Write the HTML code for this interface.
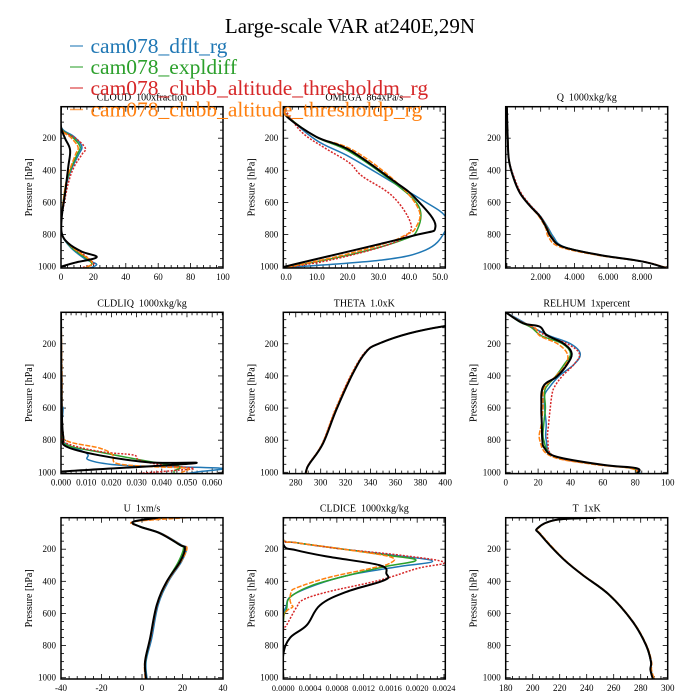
<!DOCTYPE html>
<html><head><meta charset="utf-8">
<style>
html,body{margin:0;padding:0;background:#fff;}
svg{display:block;font-family:"Liberation Serif",serif;}
text{white-space:pre;}
</style></head>
<body>
<svg id="chart" width="700" height="700" viewBox="0 0 700 700">
<text x="350" y="33" font-size="21" text-anchor="middle">Large-scale VAR at240E,29N</text>
</svg>
<script>
// ---------- DATA ----------
const CLOUD_P_BLUE=[4,130,190,250,300,380,480,626,700,800,870,916,958,985,1008];
const CLOUD_BLUE=[0,0,8,12.8,11,7,3.5,1,0,0.5,5,10,16,22,18];
const CLOUD_P_GREEN=[4,135,192,252,300,380,480,626,700,800,870,916,958,985,1008];
const CLOUD_GREEN=[0,0,7,11.8,10,6.5,3.2,1,0,0.5,5.5,11,17,19,15];
const CLOUD_P_RED=[4,140,200,262,300,380,480,626,700,800,875,916,958,985,1008];
const CLOUD_RED=[0,0,9,15,13,8,4.5,1.5,0,0.5,6.6,12.8,18,20,12];
const CLOUD_P_ORANGE=[4,140,195,255,300,380,480,626,700,800,870,916,958,985,1008];
const CLOUD_ORANGE=[0,0,6,10.5,9,6,3,1,0,0.5,6,12,18,19,14];
const CLOUD_P_BLACK=[4,128,201,273,377,543,688,792,854,906,941,975,1000,1008];
const CLOUD_BLACK=[0,0,2.5,5.6,4.5,2.5,0.5,0.5,4.5,12.8,22,8.6,0,0];

const OMEGA_P_BLUE=[4,60,211,315,460,585,689,793,896,958,1005];
const OMEGA_BLUE=[-0.8,0.5,9.7,20.5,33.3,44.2,51.8,51.2,45.3,31.2,0];
const OMEGA_P_GREEN=[4,60,190,283,470,625,770,832,920,1005];
const OMEGA_GREEN=[-0.6,0.3,9.5,20.5,34.5,43.1,42.6,38,22,0];
const OMEGA_P_RED=[4,55,168,260,353,436,560,726,809,875,960,1005];
const OMEGA_RED=[-0.8,0.8,5.4,12.5,20.5,24.7,34.5,40.4,38.8,31.2,14,0];
const OMEGA_P_ORANGE=[4,60,190,273,470,645,760,800,850,930,1005];
const OMEGA_ORANGE=[-0.7,0.3,9.5,21.6,35.6,43.1,42,39,33,18,0];
const OMEGA_P_BLACK=[4,64,190,273,460,574,750,813,1000,1008];
const OMEGA_BLACK=[-0.5,0.2,9.7,20.5,34.5,42,48.5,40,-0.5,-0.5];

const Q_P=[4,100,200,336,450,543,620,688,760,813,875,927,968,1008];
const Q_BLUE=[0,0.02,0.05,0.12,0.42,0.8,1.4,2.0,2.45,2.75,3.35,5.4,8.0,9.4];
const Q_GREEN=[0,0.02,0.05,0.12,0.4,0.8,1.38,1.98,2.4,2.65,3.3,5.5,8.05,9.4];
const Q_RED=[0,0.02,0.05,0.13,0.45,0.85,1.42,2.0,2.4,2.65,3.3,5.5,8.1,9.45];
const Q_ORANGE=[0,0.02,0.05,0.12,0.4,0.78,1.35,1.9,2.3,2.45,3.1,5.3,8.0,9.5];
const Q_BLACK=[0,0.02,0.05,0.12,0.4,0.78,1.35,1.96,2.35,2.6,3.3,5.5,8.05,9.4];

const LIQ_P_BLUE=[4,550,600,700,809,882,923,954,964,975,996,1008];
const LIQ_BLUE=[0,0,0.0008,0.0004,0.0009,0.0102,0.011,0.022,0.040,0.064,0.055,0.05];
const LIQ_P_GREEN=[4,600,760,830,882,933,964,990,1008];
const LIQ_GREEN=[0,0,0.0005,0.0022,0.018,0.035,0.047,0.045,0.045];
const LIQ_P_RED=[4,600,760,819,871,892,923,954,975,986,1008];
const LIQ_RED=[0,0,0.0005,0.0022,0.0155,0.0286,0.031,0.040,0.0525,0.047,0.03];
const LIQ_P_ORANGE=[4,400,600,760,809,850,892,944,964,975,1000,1008];
const LIQ_ORANGE=[0,0.0004,0.0004,0.0008,0.003,0.0155,0.0205,0.022,0.035,0.05,0.048,0.048];
const LIQ_P_BLACK=[4,600,778,840,895,938,944,996,1008];
const LIQ_BLACK=[0,0.0003,0.0009,0.0022,0.0155,0.035,0.0525,0,0];

const THETA_P=[60,89,135,197,249,384,612,820,944,975,1003,1008];
const THETA_BLUE=[430,400,371,347.5,336.6,325.5,312,301.5,291,289,288.2,288.2];
const THETA_GREEN=[430,400,371,347.4,336.5,325.6,312.2,301.7,291.1,289,288.1,288.1];
const THETA_RED=[430,400,371,347,336,325,311.6,301.3,290.8,288.8,288,288];
const THETA_ORANGE=[430,400,371,347.3,336.4,325.3,311.8,301.4,291,289,288.5,288.5];
const THETA_BLACK=[430,400,371,347.3,336.6,325.9,312.5,301.9,291.2,289,288,288];

const RH_P=[4,60,100,150,200,262,330,400,470,520,600,700,800,900,950,975,1008];
const RH_BLUE=[0,10,17,27,40,46,42,33,27,24,24,25,25,30,57,79,83];
const RH_GREEN=[0,8,16,22,35,40,36,31,25,24,24.5,23.5,23.5,30,56,78,81];
const RH_RED=[0,9,17,25,38,45.5,42,35,30,28.5,27.5,26.5,26,30,55,78,82];
const RH_ORANGE=[0,9,18,21,32,38,37,31,24,23,23,22,21,28,54,77,82];
const RH_P_BLACK=[4,72,93,145,197,259,333,405,467,592,700,799,850,903,954,975,1008];
const RH_BLACK=[0,10.7,21,25.2,35.5,40.7,37.6,31.4,23.1,22,22.3,22.6,24,31.4,60.3,81,81];

const U_P=[4,29,60,101,174,194,278,402,547,754,900,1008];
const U_BLUE=[12,-4,-0.5,9.5,19.5,22,19.5,13,8,4.8,2,2.5];
const U_GREEN=[12,-4,-0.8,9,18.5,20.5,18,12.3,7.5,4.2,1.7,2];
const U_RED=[14,-4.5,-1,9,19,21.5,19,12.5,7.6,4.3,1.6,2];
const U_ORANGE=[22,-4,-0.8,9.3,19.3,22.2,19.2,12.6,7.4,4.1,1.4,1.6];
const U_BLACK=[8,-4.3,-1,8.9,18.8,21.2,18.8,12.2,7.3,4,1.5,2];

const ICE_P_BLUE=[4,140,160,200,240,275,310,360,420,491,560,640,1008];
const ICE_BLUE=[0,0,0.0002,0.0009,0.0017,0.00223,0.0017,0.001,0.0005,0.00012,0.00004,0,0];
const ICE_P_GREEN=[4,140,160,200,240,270,310,370,430,500,570,660,1008];
const ICE_GREEN=[0,0,0.0002,0.0009,0.0016,0.00198,0.0015,0.0009,0.0004,0.0001,0.00005,0,0];
const ICE_P_RED=[4,140,160,200,240,282,320,393,466,514,560,673,720,1008];
const ICE_RED=[0,0,0.0002,0.0009,0.0018,0.0024,0.002,0.00144,0.00066,0.0003,0.0002,0.00005,0,0];
const ICE_P_ORANGE=[4,140,160,200,248,290,320,378,440,466,514,545,560,585,640,1008];
const ICE_ORANGE=[0,0,0.0002,0.0009,0.0016,0.00158,0.0013,0.00066,0.0002,0.00012,0.0001,0.00012,0.00014,0.00005,0,0];
const ICE_P_BLACK=[4,170,207,248,300,352,393,466,548,673,752,855,1008];
const ICE_BLACK=[0,0,0.0002,0.00069,0.00144,0.00154,0.00151,0.00094,0.00055,0.00035,0.0001,0,0];

const T_P=[4,18,70,111,256,360,484,650,795,899,950,1008];
const T_BLUE=[248,217,203.8,206,222.2,237,256.5,273.8,283.6,287.4,287.6,289.5];
const T_GREEN=[248,217,203.6,206,222,236.8,256.4,273.8,283.7,287.5,287.4,289.3];
const T_RED=[248,217,203.6,206,222,236.7,256.4,273.7,283.6,287.4,287.3,289.2];
const T_ORANGE=[248,217.5,204,206.5,222.5,237.3,257,274.3,284.2,288,288,290];
const T_BLACK=[247,217,203.5,205.9,222,236.9,256.7,274,283.9,287.6,287.2,289];

const LEGEND_NAMES=["cam078_dflt_rg","cam078_expldiff","cam078_clubb_altitude_thresholdm_rg","cam078_clubb_altitude_thresholdp_rg"];

// ---------- LAYOUT ----------
const svg=document.getElementById('chart');
const NS='http://www.w3.org/2000/svg';
const COLS=[61,283.3,505.7], ROWS=[106.7,312.3,517.7], W=162, H=161.3;
const PMIN=4, PMAX=1008;
const COLORS=['#1f77b4','#2ca02c','#d62728','#ff7f0e','#000000'];
const DASH=['', '', '2,1.5', '5,1.5', ''];
const WIDTHS=[1.5,1.5,1.5,1.5,2];
const SNAMES=['blue','green','red','orange','black'];

function mk(tag,attrs,parent){const e=document.createElementNS(NS,tag);for(const k in attrs)e.setAttribute(k,attrs[k]);(parent||svg).appendChild(e);return e;}

function smoothPath(pts){
  if(pts.length<3) return pts.map((q,k)=>(k?'L':'M')+q[0].toFixed(2)+','+q[1].toFixed(2)).join(' ');
  let d='M'+pts[0][0].toFixed(2)+','+pts[0][1].toFixed(2);
  const t=0.18;
  for(let k=0;k<pts.length-1;k++){
    const p0=pts[Math.max(0,k-1)],p1=pts[k],p2=pts[k+1],p3=pts[Math.min(pts.length-1,k+2)];
    const c1=[p1[0]+(p2[0]-p0[0])*t,p1[1]+(p2[1]-p0[1])*t];
    const c2=[p2[0]-(p3[0]-p1[0])*t,p2[1]-(p3[1]-p1[1])*t];
    d+=' C'+c1[0].toFixed(2)+','+c1[1].toFixed(2)+' '+c2[0].toFixed(2)+','+c2[1].toFixed(2)+' '+p2[0].toFixed(2)+','+p2[1].toFixed(2);
  }
  return d;
}

const PANELS=[
 {name:'cloud',title:'CLOUD  100xfraction',dom:[0,100],major:20,minor:4,fmt:v=>v.toFixed(0),tickStart:0,
  series:[[CLOUD_P_BLUE,CLOUD_BLUE],[CLOUD_P_GREEN,CLOUD_GREEN],[CLOUD_P_RED,CLOUD_RED],[CLOUD_P_ORANGE,CLOUD_ORANGE],[CLOUD_P_BLACK,CLOUD_BLACK]]},
 {name:'omega',title:'OMEGA  864xPa/s',dom:[-0.9,51.7],major:10,minor:2,fmt:v=>v.toFixed(1),tickStart:0,
  series:[[OMEGA_P_BLUE,OMEGA_BLUE],[OMEGA_P_GREEN,OMEGA_GREEN],[OMEGA_P_RED,OMEGA_RED],[OMEGA_P_ORANGE,OMEGA_ORANGE],[OMEGA_P_BLACK,OMEGA_BLACK]]},
 {name:'q',title:'Q  1000xkg/kg',dom:[-0.07,9.52],major:2,minor:0.5,fmt:v=>v.toFixed(3),tickStart:2,
  series:[[Q_P,Q_BLUE],[Q_P,Q_GREEN],[Q_P,Q_RED],[Q_P,Q_ORANGE],[Q_P,Q_BLACK]]},
 {name:'cldliq',title:'CLDLIQ  1000xkg/kg',dom:[0,0.0643],major:0.01,minor:0.002,fmt:v=>v.toFixed(3),tickStart:0,
  series:[[LIQ_P_BLUE,LIQ_BLUE],[LIQ_P_GREEN,LIQ_GREEN],[LIQ_P_RED,LIQ_RED],[LIQ_P_ORANGE,LIQ_ORANGE],[LIQ_P_BLACK,LIQ_BLACK]]},
 {name:'theta',title:'THETA  1.0xK',dom:[270,400],major:20,minor:5,fmt:v=>v.toFixed(0),tickStart:280,
  series:[[THETA_P,THETA_BLUE],[THETA_P,THETA_GREEN],[THETA_P,THETA_RED],[THETA_P,THETA_ORANGE],[THETA_P,THETA_BLACK]]},
 {name:'relhum',title:'RELHUM  1xpercent',dom:[0,100],major:20,minor:4,fmt:v=>v.toFixed(0),tickStart:0,
  series:[[RH_P,RH_BLUE],[RH_P,RH_GREEN],[RH_P,RH_RED],[RH_P,RH_ORANGE],[RH_P_BLACK,RH_BLACK]]},
 {name:'u',title:'U  1xm/s',dom:[-40,40],major:20,minor:4,fmt:v=>v.toFixed(0),tickStart:-40,
  series:[[U_P,U_BLUE],[U_P,U_GREEN],[U_P,U_RED],[U_P,U_ORANGE],[U_P,U_BLACK]]},
 {name:'cldice',title:'CLDICE  1000xkg/kg',dom:[0,0.00242],major:0.0004,minor:0.0001,fmt:v=>v.toFixed(4),tickStart:0,small:true,
  series:[[ICE_P_BLUE,ICE_BLUE],[ICE_P_GREEN,ICE_GREEN],[ICE_P_RED,ICE_RED],[ICE_P_ORANGE,ICE_ORANGE],[ICE_P_BLACK,ICE_BLACK]]},
 {name:'t',title:'T  1xK',dom:[180,300],major:20,minor:5,fmt:v=>v.toFixed(0),tickStart:180,
  series:[[T_P,T_BLUE],[T_P,T_GREEN],[T_P,T_RED],[T_P,T_ORANGE],[T_P,T_BLACK]]}
];

PANELS.forEach((pn,i)=>{
  const x0=COLS[i%3], y0=ROWS[Math.floor(i/3)];
  const xs=v=>x0+(v-pn.dom[0])/(pn.dom[1]-pn.dom[0])*W;
  const ys=p=>y0+(p-PMIN)/(PMAX-PMIN)*H;
  const g=mk('g',{});
  
  
  const cp=mk('clipPath',{id:'clip'+i},g);
  mk('rect',{x:x0,y:y0,width:W,height:H},cp);
  const t=mk('text',{x:x0+W/2,y:y0-6,'font-size':10,'text-anchor':'middle'},g);
  t.textContent=pn.title;
  
  
  const yl=mk('text',{x:x0-29,y:y0+H/2,'font-size':10,'text-anchor':'middle',transform:`rotate(-90 ${x0-29} ${y0+H/2})`},g);
  yl.textContent='Pressure [hPa]';
  
  
  for(let p=50;p<=1000;p+=50){
    const y=ys(p), maj=p%200===0, L=maj?5:3;
    mk('line',{x1:x0,x2:x0+L,y1:y,y2:y,stroke:'#000','stroke-width':0.8},g);
    mk('line',{x1:x0+W,x2:x0+W-L,y1:y,y2:y,stroke:'#000','stroke-width':0.8},g);
    if(maj){const tl=mk('text',{x:x0-5,y:y+3,'font-size':9,'text-anchor':'end'},g);tl.textContent=p;
      
      }
  }
  const nmin=Math.ceil((pn.dom[0]-1e-12)/pn.minor), nmax=Math.floor((pn.dom[1]+1e-12)/pn.minor);
  const ratio=Math.round(pn.major/pn.minor);
  for(let k=nmin;k<=nmax;k++){
    const v=k*pn.minor, x=xs(v), maj=(((k%ratio)+ratio)%ratio)===0, L=maj?5:3;
    mk('line',{x1:x,x2:x,y1:y0+H,y2:y0+H-L,stroke:'#000','stroke-width':0.8},g);
    mk('line',{x1:x,x2:x,y1:y0,y2:y0+L,stroke:'#000','stroke-width':0.8},g);
    if(maj && v>=pn.tickStart-1e-12){
      const tl=mk('text',{x:x,y:y0+H+12,'font-size':pn.small?8.3:9,'text-anchor':'middle'},g);
      tl.textContent=pn.fmt(Math.abs(v)<1e-12?0:v);
      
      
    }
  }
  const sg=mk('g',{'clip-path':`url(#clip${i})`},g);
  pn.series.forEach((s,j)=>{
    const [P,V]=s;
    const pts=P.map((p,k)=>[xs(V[k]),ys(p)]);
    const path=mk('path',{d:smoothPath(pts),fill:'none',stroke:COLORS[j],'stroke-width':WIDTHS[j],'stroke-dasharray':DASH[j]||'none','stroke-linejoin':'round'},sg);
    
    
  });
  const fr=mk('rect',{x:x0,y:y0,width:W,height:H,fill:'none',stroke:'#000','stroke-width':1.5},g);
  
  
});

const LEG_Y=[53,74,95,116.5];
LEGEND_NAMES.forEach((nm,i)=>{
  const lg=mk('g',{});
  
  
  mk('line',{x1:70,x2:83,y1:LEG_Y[i]-7,y2:LEG_Y[i]-7,stroke:COLORS[i],'stroke-width':1.5,opacity:0.7},lg);
  const tx=mk('text',{x:90.5,y:LEG_Y[i],'font-size':21.5,fill:COLORS[i]},lg);
  tx.textContent=nm;
});
</script>
</body></html>
